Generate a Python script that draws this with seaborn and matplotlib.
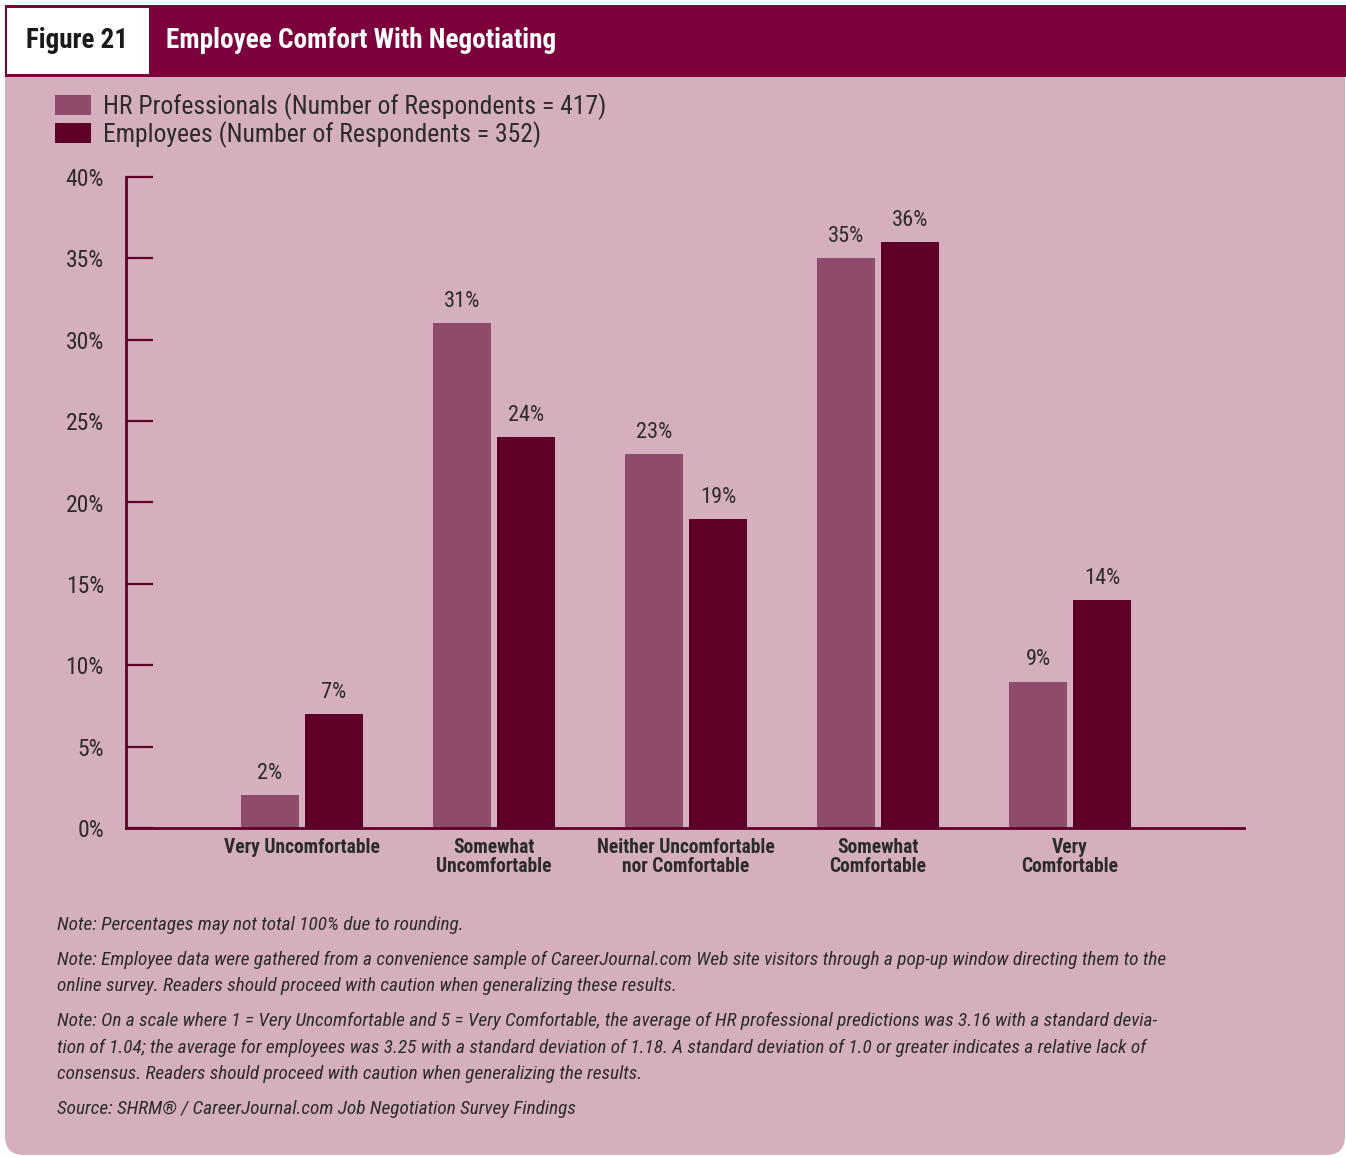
import matplotlib
matplotlib.use("Agg")
import matplotlib.pyplot as plt
from matplotlib import font_manager
from matplotlib.patches import FancyBboxPatch, Rectangle
import seaborn as sns
import pandas as pd

# ---- data -------------------------------------------------------------
categories = [
    "Very Uncomfortable",
    "Somewhat\nUncomfortable",
    "Neither Uncomfortable\nnor Comfortable",
    "Somewhat\nComfortable",
    "Very\nComfortable",
]
series_names = [
    "HR Professionals (Number of Respondents = 417)",
    "Employees (Number of Respondents = 352)",
]
hr_values = [2, 31, 23, 35, 9]
employee_values = [7, 24, 19, 36, 14]
y_ticks = [0, 5, 10, 15, 20, 25, 30, 35, 40]

note_lines = [
    "Note: Percentages may not total 100% due to rounding.",
    "Note: Employee data were gathered from a convenience sample of CareerJournal.com Web site visitors through a pop-up window directing them to the",
    "online survey. Readers should proceed with caution when generalizing these results.",
    "Note: On a scale where 1 = Very Uncomfortable and 5 = Very Comfortable, the average of HR professional predictions was 3.16 with a standard devia-",
    "tion of 1.04; the average for employees was 3.25 with a standard deviation of 1.18. A standard deviation of 1.0 or greater indicates a relative lack of",
    "consensus. Readers should proceed with caution when generalizing the results.",
    "Source: SHRM\u00ae / CareerJournal.com Job Negotiation Survey Findings",
]
note_line_y = [925, 960, 986, 1021, 1048, 1074, 1109]

# ---- styling ----------------------------------------------------------
MAROON = "#7B003C"
PANEL = "#D5AFBD"
HR_COLOR = "#8F4B6B"
EMP_COLOR = "#5F0028"
TEXT = "#2B2B2B"

sns.set_theme(style="white")

# prefer a narrow sans face if one is available
fonts = font_manager.fontManager.ttflist
names = {f.name for f in fonts}
stretch = "normal"
if "Roboto Condensed" in names:
    family = "Roboto Condensed"
elif "Liberation Sans Narrow" in names:
    family = "Liberation Sans Narrow"
elif any(f.name == "DejaVu Sans" and f.stretch == "condensed" for f in fonts):
    family, stretch = "DejaVu Sans", "condensed"
elif "Roboto" in names:
    family = "Roboto"
else:
    family = "Liberation Sans"
plt.rcParams["font.family"] = [family, "DejaVu Sans"]
plt.rcParams["font.stretch"] = stretch

W, H = 1346, 1157
fig = plt.figure(figsize=(W / 100, H / 100), dpi=100)
fig.patch.set_facecolor("white")
renderer = fig.canvas.get_renderer()


def fx(px):
    return px / W


def fy(py):
    return 1 - py / H


def fit_size(text, target_px, **kw):
    """Font size at which `text` spans target_px pixels."""
    t = fig.text(0, 0, text, fontsize=10, **kw)
    w = t.get_window_extent(renderer).width
    t.remove()
    return 10 * target_px / w


# panel with rounded corners, behind everything else
panel = FancyBboxPatch((fx(5), fy(1155)), fx(1340), 1150 / H,
                       boxstyle="round,pad=0,rounding_size=0.014",
                       transform=fig.transFigure, facecolor=PANEL,
                       edgecolor="none", mutation_aspect=W / H, zorder=-3)
fig.patches.append(panel)
# header band
fig.patches.append(Rectangle((fx(5), fy(77)), fx(1341), 72 / H,
                             transform=fig.transFigure, facecolor=MAROON,
                             edgecolor="none", zorder=-2))
fig.patches.append(Rectangle((fx(7), fy(74)), fx(142), 66 / H,
                             transform=fig.transFigure, facecolor="white",
                             edgecolor="none", zorder=-1))
fs = fit_size("Figure 21", 102, fontweight="bold")
fig.text(fx(26), fy(40), "Figure 21", ha="left", va="center",
         fontsize=fs, fontweight="bold", color="#1A1A1A")
fs = fit_size("Employee Comfort With Negotiating", 390, fontweight="semibold")
fig.text(fx(166), fy(40), "Employee Comfort With Negotiating", ha="left",
         va="center", fontsize=fs, fontweight="semibold", color="white")

# ---- bar chart --------------------------------------------------------
df = pd.DataFrame({
    "category": categories * 2,
    "series": [series_names[0]] * len(categories) + [series_names[1]] * len(categories),
    "value": hr_values + employee_values,
})

ax = fig.add_axes([fx(126), fy(828), fx(1244 - 126), (828 - 177) / H])
ax.set_facecolor("none")
sns.barplot(data=df, x="category", y="value", hue="series",
            order=categories, hue_order=series_names,
            palette=[HR_COLOR, EMP_COLOR], width=0.667, gap=0.094,
            saturation=1, errorbar=None, linewidth=0, edgecolor="none",
            ax=ax)

bar_fs = fit_size("31%", 36)
for container in ax.containers:
    ax.bar_label(container, fmt="%d%%", padding=8, fontsize=bar_fs, color=TEXT)

ax.set_xlim(-0.917, 4.906)
ax.set_ylim(0, 40)
ax.set_yticks(y_ticks)
ax.set_yticklabels([f"{v}%" for v in y_ticks])
ax.set_xlabel("")
ax.set_ylabel("")

for side in ("top", "right"):
    ax.spines[side].set_visible(False)
for side in ("left", "bottom"):
    ax.spines[side].set_color(EMP_COLOR)
    ax.spines[side].set_linewidth(2)
    ax.spines[side].set_zorder(3)
tick_fs = fit_size("40%", 38)
cat_fs = fit_size("Very Uncomfortable", 156, fontweight="bold")
ax.tick_params(axis="y", direction="in", length=19.5, width=1.6,
               color=EMP_COLOR, pad=16, labelsize=tick_fs, labelcolor=TEXT,
               left=True)
ax.tick_params(axis="x", length=0, pad=7, labelsize=cat_fs, labelcolor=TEXT)
for lbl in ax.get_xticklabels():
    lbl.set_fontweight("bold")
    lbl.set_linespacing(1.0)

leg_fs = fit_size(series_names[0], 500)
px_per_em = leg_fs * 100 / 72
leg = ax.legend(loc="upper left", bbox_to_anchor=(fx(55), fy(93)),
                bbox_transform=fig.transFigure, frameon=False,
                fontsize=leg_fs, handlelength=36 / px_per_em,
                handleheight=21 / px_per_em,
                handletextpad=12 / px_per_em, labelspacing=0.06,
                borderaxespad=0, borderpad=0)
for t in leg.get_texts():
    t.set_color(TEXT)

# ---- notes ------------------------------------------------------------
note_fs = fit_size(note_lines[1], 1107, style="italic")
for y, line in zip(note_line_y, note_lines):
    fig.text(fx(57), fy(y), line, ha="left", va="center", fontsize=note_fs,
             style="italic", color=TEXT)

fig.savefig("out.png", dpi=100, facecolor="white")
